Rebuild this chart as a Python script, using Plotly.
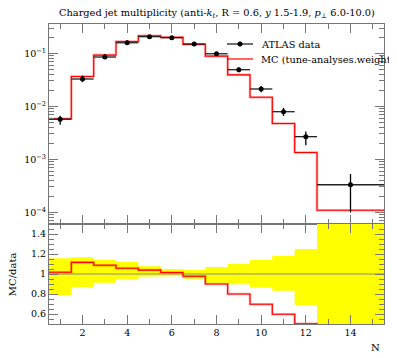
import numpy as np
import plotly.graph_objects as go

# ---- data ----
bin_edges = [0.5, 1.5, 2.5, 3.5, 4.5, 5.5, 6.5, 7.5, 8.5, 9.5, 10.5, 11.5, 12.5, 15.5]
data_vals = [5.7e-3, 0.0327, 0.085, 0.158, 0.206, 0.197, 0.150, 0.098, 0.049, 0.0212, 0.0079, 0.00267, 3.3e-4]
data_relerr_up = [0.157, 0.167, 0.14, 0.12, 0.077, 0.05, 0.04, 0.07, 0.103, 0.14, 0.183, 0.25, 0.60]
data_relerr_dn = [0.21, 0.13, 0.087, 0.05, 0.027, 0.02, 0.047, 0.087, 0.103, 0.137, 0.167, 0.31, 0.70]
mc_vals = [5.8e-3, 0.0365, 0.0924, 0.167, 0.214, 0.200, 0.1466, 0.0882, 0.0392, 0.0148, 0.00472, 0.00134, 1.09e-4]
x_tick_vals = [2, 4, 6, 8, 10, 12, 14]
log_tick_vals = [1e-4, 1e-3, 1e-2, 1e-1]
log_tick_text = ["10<sup>−4</sup>", "10<sup>−3</sup>", "10<sup>−2</sup>", "10<sup>−1</sup>"]
ratio_tick_vals = [0.6, 0.8, 1.0, 1.2, 1.4]
ratio_tick_text = ["0.6", "0.8", "1", "1.2", "1.4"]

edges = np.array(bin_edges)
centers = 0.5 * (edges[:-1] + edges[1:])
halfw = 0.5 * (edges[1:] - edges[:-1])
d = np.array(data_vals)
m = np.array(mc_vals)
eu = d * np.array(data_relerr_up)
ed = d * np.array(data_relerr_dn)
ratio = m / d
band_up = 1 + np.array(data_relerr_up)
band_dn = 1 - np.array(data_relerr_dn)

FONT = "DejaVu Serif"
AX = "#777777"

fig = go.Figure()

# ratio band (yellow)
bx = list(edges[:-1]) + [edges[-1]]
up_steps_x, up_steps_y, dn_steps_x, dn_steps_y = [], [], [], []
for i in range(len(d)):
    up_steps_x += [edges[i], edges[i + 1]]
    up_steps_y += [band_up[i], band_up[i]]
    dn_steps_x += [edges[i], edges[i + 1]]
    dn_steps_y += [band_dn[i], band_dn[i]]
fig.add_trace(go.Scatter(x=up_steps_x + dn_steps_x[::-1], y=up_steps_y + dn_steps_y[::-1],
                         fill="toself", fillcolor="#ffff00", line=dict(width=0),
                         mode="lines", xaxis="x2", yaxis="y2", showlegend=False, hoverinfo="skip"))
# reference line at 1
fig.add_trace(go.Scatter(x=[edges[0], edges[-1]], y=[1, 1], mode="lines",
                         line=dict(color="#888888", width=1), xaxis="x2", yaxis="y2", showlegend=False))
# MC/data ratio
fig.add_trace(go.Scatter(x=bx, y=list(ratio) + [ratio[-1]], mode="lines", line_shape="hv",
                         line=dict(color="rgba(255,0,0,0.35)", width=2.5), xaxis="x2", yaxis="y2", showlegend=False))
fig.add_trace(go.Scatter(x=bx, y=list(ratio) + [ratio[-1]], mode="lines", line_shape="hv",
                         line=dict(color="red", width=1.1), xaxis="x2", yaxis="y2", showlegend=False))

# upper: MC histogram
fig.add_trace(go.Scatter(x=bx, y=list(m) + [m[-1]], mode="lines", line_shape="hv",
                         line=dict(color="rgba(255,0,0,0.35)", width=2.5), xaxis="x", yaxis="y", showlegend=False))
fig.add_trace(go.Scatter(x=bx, y=list(m) + [m[-1]], mode="lines", line_shape="hv",
                         line=dict(color="red", width=1.1), xaxis="x", yaxis="y", showlegend=False))
# upper: data
fig.add_trace(go.Scatter(x=centers, y=d, mode="markers",
                         marker=dict(color="black", size=5),
                         error_x=dict(type="data", array=halfw, color="#222222", thickness=1.3, width=0),
                         error_y=dict(type="data", array=eu, arrayminus=ed, color="black", thickness=1.3, width=0),
                         xaxis="x", yaxis="y", showlegend=False))

minor_log = []
for e in range(-5, 1):
    for k in range(2, 10):
        minor_log.append(k * 10.0 ** e)

common_x = dict(range=[0.5, 15.5], showline=True, linecolor=AX, linewidth=1, mirror="ticks",
                ticks="inside", tickcolor=AX, tickvals=x_tick_vals, ticklen=9,
                minor=dict(ticks="inside", dtick=1, tick0=0, ticklen=5, tickcolor=AX),
                showgrid=False, zeroline=False)

# page body has an 8px offset; the figure is sized so the plot lands where the reference has it
fig.update_layout(
    width=389, height=350,
    margin=dict(l=41, r=13, t=16, b=34),
    paper_bgcolor="white", plot_bgcolor="white",
    font=dict(family=FONT, size=10, color="black"),
    xaxis=dict(common_x, domain=[0, 1], anchor="y", showticklabels=False),
    yaxis=dict(type="log", domain=[1 / 3, 1], range=[np.log10(6.0e-5), np.log10(0.357)],
               tickvals=log_tick_vals, ticktext=log_tick_text, showline=True, linecolor=AX, mirror="ticks",
               ticks="inside", ticklen=9, tickcolor=AX, showgrid=False, zeroline=False,
               minor=dict(ticks="inside", tickvals=minor_log, ticklen=5, tickcolor=AX),
               tickfont=dict(size=9.5)),
    xaxis2=dict(common_x, domain=[0, 1], anchor="y2", showticklabels=True, tickfont=dict(size=9.5)),
    yaxis2=dict(domain=[0, 1 / 3], range=[0.5, 1.5], tickvals=ratio_tick_vals, ticktext=ratio_tick_text,
                showline=True, linecolor=AX, mirror="ticks", ticks="inside", ticklen=9, tickcolor=AX,
                minor=dict(ticks="inside", dtick=0.05, tick0=0, ticklen=5, tickcolor=AX),
                showgrid=False, zeroline=False, tickfont=dict(size=9.5)),
)

fig.add_annotation(x=0.5, y=1, xref="paper", yref="paper", yshift=11, showarrow=False,
                   xanchor="center", yanchor="middle", font=dict(size=9.8),
                   text="Charged jet multiplicity (anti-<i>k</i><sub><i>t</i></sub>, R = 0.6, <i>y</i> 1.5-1.9, <i>p</i><sub>⊥</sub> 6.0-10.0)")
fig.add_annotation(x=-0.11, y=1 / 6, xref="paper", yref="paper", showarrow=False, textangle=-90,
                   text="MC/data", font=dict(size=10), xanchor="center", yanchor="middle")
fig.add_annotation(x=1, y=0, xref="paper", yref="paper", showarrow=False, yshift=-23, xshift=-2,
                   text="N", font=dict(size=10), xanchor="right", yanchor="middle")

# legend (manual)
lx0, lx1 = (227 - 49) / 335, (253 - 49) / 335
ly1 = 1 - (44 - 24) / 300
ly2 = 1 - (59 - 24) / 300
fig.add_shape(type="line", xref="paper", yref="paper", x0=lx0, x1=lx1, y0=ly1, y1=ly1,
              line=dict(color="#222222", width=1.3))
fig.add_shape(type="circle", xref="paper", yref="paper", x0=(240 - 49 - 2.5) / 335, x1=(240 - 49 + 2.5) / 335,
              y0=ly1 - 2.5 / 300, y1=ly1 + 2.5 / 300, fillcolor="black", line=dict(width=0))
fig.add_shape(type="line", xref="paper", yref="paper", x0=lx0, x1=lx1, y0=ly2, y1=ly2,
              line=dict(color="red", width=1.2))
fig.add_annotation(x=(259 - 49) / 335, y=ly1, xref="paper", yref="paper", showarrow=False,
                   xanchor="left", yanchor="middle", text="ATLAS data", font=dict(size=9.8))
fig.add_annotation(x=(259 - 49) / 335, y=ly2, xref="paper", yref="paper", showarrow=False,
                   xanchor="left", yanchor="middle", text="MC (tune-analyses.weight", font=dict(size=9.8))

fig.write_html("out.html")
